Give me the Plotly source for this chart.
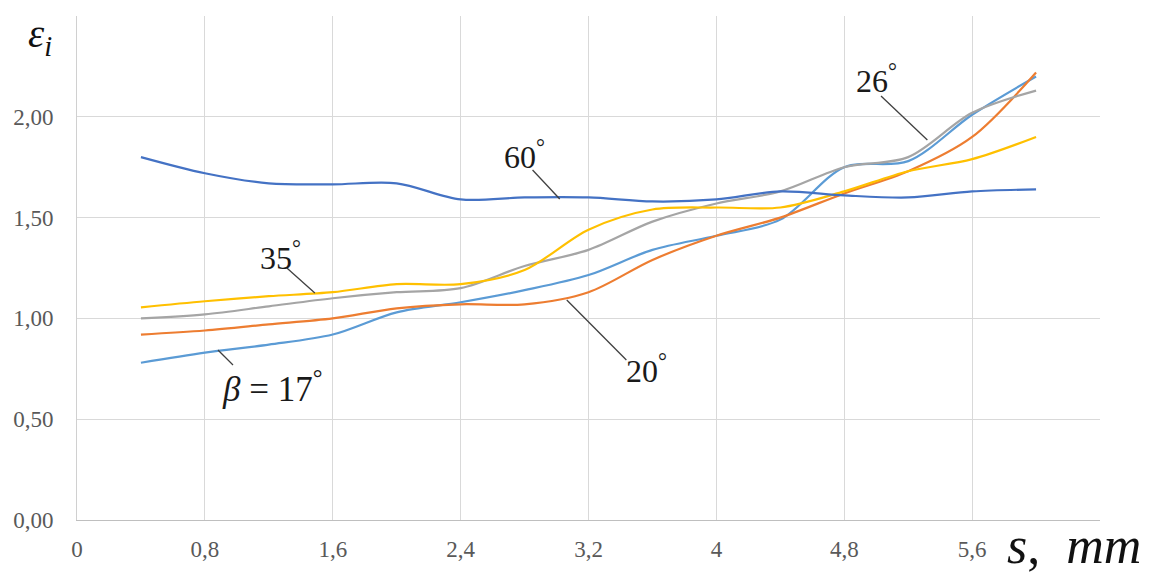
import plotly.graph_objects as go

# Data
s_mm = [0.4, 0.8, 1.2, 1.6, 2.0, 2.4, 2.8, 3.2, 3.6, 4.0, 4.4, 4.8, 5.2, 5.6, 6.0]

eps_17 = [0.78, 0.83, 0.87, 0.92, 1.03, 1.08, 1.14, 1.215, 1.34, 1.41, 1.49, 1.75, 1.78, 2.01, 2.20]
eps_20 = [0.92, 0.94, 0.97, 1.00, 1.05, 1.07, 1.07, 1.13, 1.29, 1.41, 1.50, 1.62, 1.73, 1.90, 2.22]
eps_26 = [1.00, 1.02, 1.06, 1.10, 1.13, 1.15, 1.26, 1.34, 1.48, 1.57, 1.63, 1.75, 1.80, 2.02, 2.13]
eps_35 = [1.055, 1.085, 1.11, 1.13, 1.17, 1.17, 1.24, 1.44, 1.54, 1.55, 1.55, 1.63, 1.73, 1.79, 1.90]
eps_60 = [1.80, 1.72, 1.67, 1.665, 1.67, 1.59, 1.60, 1.60, 1.58, 1.59, 1.63, 1.61, 1.60, 1.63, 1.64]

series_names = ["17°", "20°", "26°", "35°", "60°"]
series_values = [eps_17, eps_20, eps_26, eps_35, eps_60]
series_colors = ["#5B9BD5", "#ED7D31", "#A5A5A5", "#FFC000", "#4472C4"]

x_tickvals = [0, 0.8, 1.6, 2.4, 3.2, 4.0, 4.8, 5.6, 6.4]
x_ticktext = ["0", "0,8", "1,6", "2,4", "3,2", "4", "4,8", "5,6", ""]
y_tickvals = [0, 0.5, 1.0, 1.5, 2.0, 2.5]
y_ticktext = ["0,00", "0,50", "1,00", "1,50", "2,00", ""]

# Curve labels: text, text position, font size, leader line (x0, y0, x1, y1)
labels = [
    ("60<sup>°</sup>", 2.80, 1.81, 32, (2.85, 1.736, 3.02, 1.592)),
    ("35<sup>°</sup>", 1.27, 1.31, 32, (1.313, 1.25, 1.488, 1.126)),
    ("26<sup>°</sup>", 5.00, 2.19, 32, (5.03, 2.103, 5.32, 1.885)),
    ("20<sup>°</sup>", 3.56, 0.75, 32, (3.437, 0.794, 3.064, 1.091)),
    ("<i>β</i>\u00a0=\u00a017<sup>°</sup>", 1.22, 0.66, 35, (0.976, 0.769, 0.882, 0.843)),
]

serif = "Liberation Serif"

fig = go.Figure()
for name, vals, col in zip(series_names, series_values, series_colors):
    fig.add_trace(go.Scatter(
        x=s_mm, y=vals, mode="lines", name=name,
        line=dict(color=col, width=2.2, shape="spline", smoothing=0.9),
        showlegend=False,
    ))

for text, tx, ty, fs, (x0, y0, x1, y1) in labels:
    fig.add_shape(type="line", x0=x0, y0=y0, x1=x1, y1=y1, xref="x", yref="y",
                  line=dict(color="#404040", width=1.3))
    fig.add_annotation(x=tx, y=ty, xref="x", yref="y", text=text, showarrow=False,
                       font=dict(family=serif, size=fs, color="#1a1a1a"))

# Axis titles
fig.add_annotation(x=-0.036, y=0.96, xref="paper", yref="paper", xanchor="center", yanchor="middle",
                   text="<i>ε<sub>i</sub></i>", showarrow=False,
                   font=dict(family=serif, size=41, color="#111111"))
fig.add_annotation(x=0.975, y=-0.05, xref="paper", yref="paper", xanchor="center", yanchor="middle",
                   text="<i>s</i>,\u00a0\u00a0<i>mm</i>", showarrow=False,
                   font=dict(family=serif, size=52, color="#111111"))

# the page body has an 8px margin, so the figure starts at (8, 8) in the window
fig.update_layout(
    width=1147, height=566,
    margin=dict(l=69, r=55, t=8, b=54, autoexpand=False),
    paper_bgcolor="white", plot_bgcolor="white",
    xaxis=dict(range=[0, 6.4], tickvals=x_tickvals, ticktext=x_ticktext,
               showgrid=True, gridcolor="#D9D9D9", gridwidth=1, zeroline=False,
               showline=True, linecolor="#BFBFBF", linewidth=1,
               ticks="outside", ticklen=8, tickcolor="rgba(0,0,0,0)",
               tickfont=dict(family=serif, size=23, color="#595959")),
    yaxis=dict(range=[0, 2.5], tickvals=y_tickvals, ticktext=y_ticktext,
               showgrid=True, gridcolor="#D9D9D9", gridwidth=1, zeroline=False,
               showline=True, linecolor="#D0D0D0", linewidth=1,
               ticks="outside", ticklen=18, tickcolor="rgba(0,0,0,0)",
               tickfont=dict(family=serif, size=23, color="#595959")),
)

fig.write_html("out.html")
